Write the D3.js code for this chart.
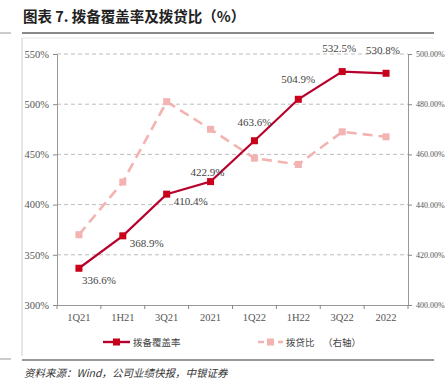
<!DOCTYPE html>
<html>
<head>
<meta charset="utf-8">
<script src="https://cdn.jsdelivr.net/npm/d3@7"></script>
<style>
  body { margin: 0; background: #fff; }
  svg { display: block; }
</style>
</head>
<body>
<svg id="chart" width="445" height="385"></svg>
<script>
// data
const quarters = ["1Q21", "1H21", "3Q21", "2021", "1Q22", "1H22", "3Q22", "2022"];
const coverage = [336.6, 368.9, 410.4, 422.9, 463.6, 504.9, 532.5, 530.8];
const loanRatio = [4.28, 4.49, 4.81, 4.70, 4.585, 4.56, 4.69, 4.67];
const leftTicks = [300, 350, 400, 450, 500, 550];
const rightTicks = [4.0, 4.2, 4.4, 4.6, 4.8, 5.0];
// where each label sits relative to its point: [dx, dy]
const labelPos = [[20, 12], [24, 7], [24, 7], [-3, -10], [0, -19], [0, -20], [-3, -24], [-3, -23]];

const svg = d3.select("#chart");
const serif = "'Liberation Serif', 'DejaVu Serif', serif";
const cjk = "'Noto Sans CJK SC', sans-serif";
const red = "#c8001a";
const redLine = "#b8002c";
const pink = "#f2b3b1";
const textCol = "#555";

const m = { left: 57, right: 408, top: 54, bottom: 305 };

const x = d3.scaleBand().domain(quarters).range([m.left, m.right]);
const yL = d3.scaleLinear().domain([300, 550]).range([m.bottom, m.top]);
const yR = d3.scaleLinear().domain([4.0, 5.0]).range([m.bottom, m.top]);
const cx = d => x(d) + x.bandwidth() / 2;

// title and frame
svg.append("text").attr("x", 23).attr("y", 22)
  .attr("font-family", cjk).attr("font-weight", "bold").attr("font-size", 14.5)
  .attr("fill", "#222").text("图表 7. 拨备覆盖率及拨贷比（%）");
svg.append("line").attr("x1", 22).attr("x2", 434).attr("y1", 33).attr("y2", 33)
  .attr("stroke", "#888").attr("stroke-width", 2);
svg.append("line").attr("x1", 22).attr("x2", 22).attr("y1", 38).attr("y2", 356)
  .attr("stroke", "#ccc");
svg.append("line").attr("x1", 22).attr("x2", 434).attr("y1", 38).attr("y2", 38)
  .attr("stroke", "#e4e4e4");
svg.append("line").attr("x1", 22).attr("x2", 434).attr("y1", 360).attr("y2", 360)
  .attr("stroke", "#777").attr("stroke-width", 1.5);
svg.append("line").attr("x1", 0).attr("x2", 11).attr("y1", 33).attr("y2", 33).attr("stroke", "#999");
svg.append("line").attr("x1", 0).attr("x2", 11).attr("y1", 359).attr("y2", 359).attr("stroke", "#999");

// grid
svg.append("g").selectAll("line").data(leftTicks.slice(1)).join("line")
  .attr("x1", m.left).attr("x2", m.right)
  .attr("y1", d => yL(d)).attr("y2", d => yL(d))
  .attr("stroke", "#bdbdbd").attr("stroke-dasharray", "4,3");

// axes
const axL = svg.append("g").attr("transform", `translate(${m.left},0)`)
  .call(d3.axisLeft(yL).tickValues(leftTicks).tickSize(4).tickFormat(d => d + "%"));
const axR = svg.append("g").attr("transform", `translate(${m.right},0)`)
  .call(d3.axisRight(yR).tickValues(rightTicks).tickSize(4).tickFormat(d3.format(".2%")));
const axB = svg.append("g").attr("transform", `translate(0,${m.bottom})`)
  .call(d3.axisBottom(x).tickSize(0).tickPadding(9));
axB.selectAll(".tick").append("line")
  .attr("x1", -x.bandwidth() / 2).attr("x2", -x.bandwidth() / 2)
  .attr("y1", 0).attr("y2", 4).attr("stroke", "#888");
axB.append("line").attr("x1", m.right).attr("x2", m.right).attr("y1", 0).attr("y2", 4).attr("stroke", "#888");

[axL, axR, axB].forEach(g => {
  g.attr("color", textCol);
  g.select(".domain").attr("stroke", "#999");
  g.selectAll(".tick line").attr("stroke", "#888");
  g.selectAll("text").attr("font-family", serif).attr("fill", textCol);
});
axL.selectAll("text").attr("font-size", 10.5).attr("dx", -1);
axR.selectAll("text").attr("font-size", 8).attr("dx", 1);
axB.selectAll("text").attr("font-size", 10.5);

// pink dashed line (right axis)
svg.append("path").datum(loanRatio)
  .attr("fill", "none").attr("stroke", pink).attr("stroke-width", 2.6)
  .attr("stroke-dasharray", "10,6")
  .attr("d", d3.line().x((d, i) => cx(quarters[i])).y(d => yR(d)));
svg.append("g").selectAll("rect").data(loanRatio).join("rect")
  .attr("x", (d, i) => cx(quarters[i]) - 3.5).attr("y", d => yR(d) - 3.5)
  .attr("width", 7).attr("height", 7).attr("fill", pink);

// red line (left axis)
svg.append("path").datum(coverage)
  .attr("fill", "none").attr("stroke", redLine).attr("stroke-width", 2.2)
  .attr("d", d3.line().x((d, i) => cx(quarters[i])).y(d => yL(d)));
svg.append("g").selectAll("rect").data(coverage).join("rect")
  .attr("x", (d, i) => cx(quarters[i]) - 3.5).attr("y", d => yL(d) - 3.5)
  .attr("width", 7).attr("height", 7).attr("fill", red);

svg.append("g").selectAll("text").data(coverage).join("text")
  .attr("x", (d, i) => cx(quarters[i]) + labelPos[i][0])
  .attr("y", (d, i) => yL(d) + labelPos[i][1] + 4)
  .attr("text-anchor", "middle")
  .attr("font-family", serif).attr("font-size", 11).attr("fill", "#444")
  .text(d => d.toFixed(1) + "%");

// legend
const lg = svg.append("g").attr("font-family", cjk).attr("font-size", 9.5).attr("fill", "#444");
lg.append("line").attr("x1", 103).attr("x2", 130).attr("y1", 342).attr("y2", 342)
  .attr("stroke", redLine).attr("stroke-width", 2.4);
lg.append("rect").attr("x", 113).attr("y", 338.5).attr("width", 7).attr("height", 7).attr("fill", red);
lg.append("text").attr("x", 133).attr("y", 345.5).text("拨备覆盖率");
lg.append("line").attr("x1", 258).attr("x2", 283).attr("y1", 342).attr("y2", 342)
  .attr("stroke", pink).attr("stroke-width", 2.4).attr("stroke-dasharray", "6,4");
lg.append("rect").attr("x", 267).attr("y", 338.5).attr("width", 7).attr("height", 7).attr("fill", pink);
lg.append("text").attr("x", 286).attr("y", 345.5).text("拨贷比");
lg.append("text").attr("x", 323).attr("y", 345.5).text("（右轴）");

// source
svg.append("text").attr("x", 24).attr("y", 377)
  .attr("font-family", cjk).attr("font-style", "italic").attr("font-size", 10.5)
  .attr("fill", "#333").text("资料来源：Wind，公司业绩快报，中银证券");
</script>
</body>
</html>
